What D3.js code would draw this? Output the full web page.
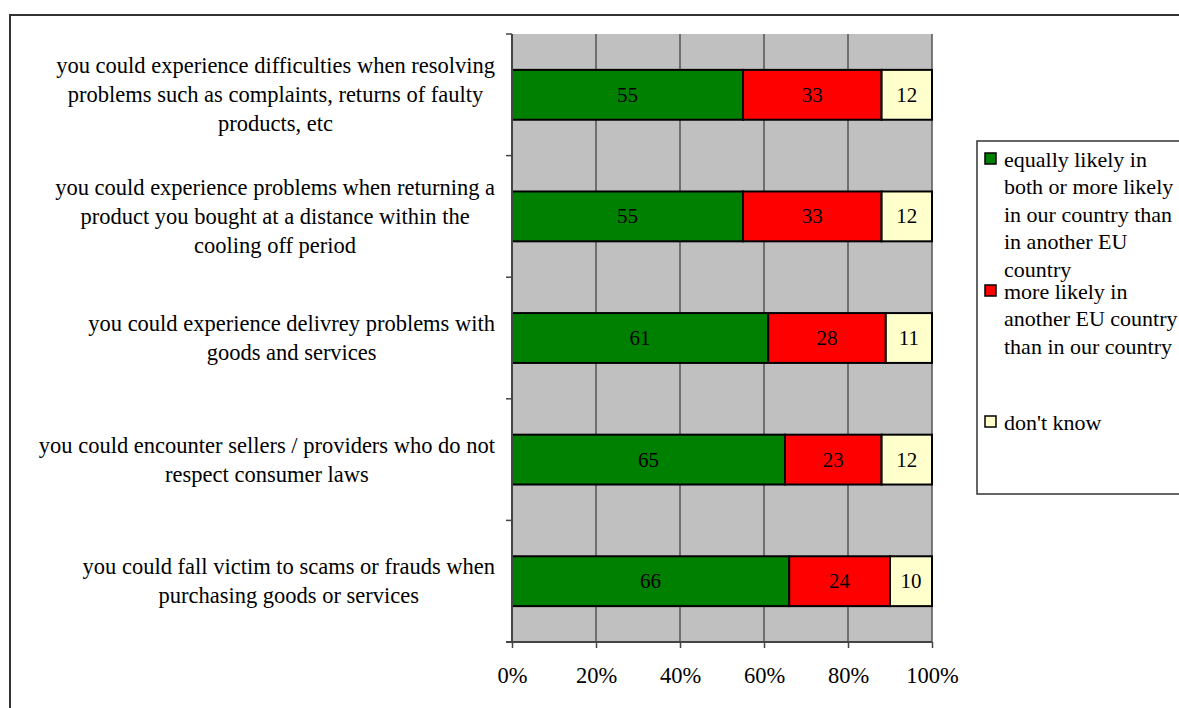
<!DOCTYPE html>
<html><head><meta charset="utf-8">
<script src="https://cdn.jsdelivr.net/npm/d3@7"></script>
<style>
body{margin:0;background:#fff;overflow:hidden;}
svg{display:block;font-family:"Liberation Serif","Times New Roman",serif;}
</style></head>
<body><svg id="chart" width="1179" height="708"></svg>
<script>
const categories = [
  ["you could experience difficulties when resolving","problems such as complaints, returns of faulty","products, etc"],
  ["you could experience problems when returning a","product you bought at a distance within the","cooling off period"],
  ["you could experience delivrey problems with","goods and services"],
  ["you could encounter sellers / providers who do not","respect consumer laws"],
  ["you could fall victim to scams or frauds when","purchasing goods or services"]
];
const seriesNames = [
  ["equally likely in","both or more likely","in our country than","in another EU","country"],
  ["more likely in","another EU country","than in our country"],
  ["don't know"]
];
const equallyLikely = [55, 55, 61, 65, 66];
const moreLikelyOther = [33, 33, 28, 23, 24];
const dontKnow = [12, 12, 11, 12, 10];
const tickValues = [0, 20, 40, 60, 80, 100];
const colors = ["#008000", "#FF0000", "#FFFFCC"];

(function(){
const svg = d3.select("#chart");
// outer frame
svg.append("rect").attr("x",10).attr("y",15).attr("width",1200).attr("height",720)
  .attr("fill","none").attr("stroke","#333").attr("stroke-width",2);

const pL=512, pR=932, pT=34, pB=642;
const x = d3.scaleLinear().domain([0,100]).range([pL,pR]);
const idx = d3.range(categories.length);
const y = d3.scaleBand().domain(idx).range([pT,pB]).paddingInner(0.59).paddingOuter(0.295);
const yBand = d3.scaleBand().domain(idx).range([pT,pB]);

// plot background
svg.append("rect").attr("x",pL).attr("y",pT).attr("width",pR-pL).attr("height",pB-pT).attr("fill","#C0C0C0");

// gridlines
svg.append("g").selectAll("line").data(tickValues.slice(1)).join("line")
  .attr("x1",d=>x(d)).attr("x2",d=>x(d)).attr("y1",pT).attr("y2",pB)
  .attr("stroke","#555").attr("stroke-width",1.5);

// stacked bars
const stackData = idx.map(i=>({i, a:equallyLikely[i], b:moreLikelyOther[i], c:dontKnow[i]}));
const stack = d3.stack().keys(["a","b","c"])(stackData);
stack.forEach((layer,li)=>{
  const g = svg.append("g");
  g.selectAll("rect").data(layer).join("rect")
    .attr("x",d=>x(d[0])).attr("width",d=>x(d[1])-x(d[0]))
    .attr("y",d=>y(d.data.i)).attr("height",y.bandwidth())
    .attr("fill",colors[li]).attr("stroke","#000").attr("stroke-width",2);
  g.selectAll("text").data(layer).join("text")
    .attr("x",d=>(x(d[0])+x(d[1]))/2).attr("y",d=>y(d.data.i)+y.bandwidth()/2)
    .attr("text-anchor","middle").attr("dominant-baseline","central")
    .attr("font-size",21).attr("fill","#000")
    .text(d=>d[1]-d[0]);
});

// y axis line and ticks
svg.append("line").attr("x1",pL).attr("x2",pL).attr("y1",pT).attr("y2",pB).attr("stroke","#444").attr("stroke-width",2);
const yTicks = idx.map(i=>yBand(i)).concat([pB]);
svg.append("g").selectAll("line").data(yTicks).join("line")
  .attr("x1",pL-6).attr("x2",pL).attr("y1",d=>d).attr("y2",d=>d)
  .attr("stroke","#444").attr("stroke-width",1.5);

// x axis
const xAxis = svg.append("g").attr("transform",`translate(0,${pB})`)
  .call(d3.axisBottom(x).tickValues(tickValues).tickFormat(d=>d+"%").tickSize(6));
xAxis.select(".domain").attr("stroke","#444").attr("stroke-width",2).attr("d",`M${pL-6},0H${pR}`);
xAxis.selectAll(".tick line").attr("stroke","#444").attr("stroke-width",1.5);
xAxis.selectAll("text").attr("y",33).attr("dy",null).attr("dominant-baseline","central")
  .attr("font-size",22.5).attr("font-family","Liberation Serif, serif").attr("fill","#000");

// category labels (centered block, right-aligned at 495)
const lineH = 29;
categories.forEach((lines,i)=>{
  const g = svg.append("g");
  const cy = yBand(i)+yBand.bandwidth()/2;
  const t = g.selectAll("text").data(lines).join("text")
    .attr("font-size",22.5).attr("fill","#000")
    .attr("y",(d,k)=>cy+(k-(lines.length-1)/2)*lineH)
    .attr("dominant-baseline","central")
    .attr("text-anchor","middle").text(d=>d);
  let w=0; t.each(function(){w=Math.max(w,this.getComputedTextLength());});
  t.attr("x",495-w/2);
});

// legend
svg.append("rect").attr("x",977).attr("y",141).attr("width",220).attr("height",353)
  .attr("fill","#fff").attr("stroke","#333").attr("stroke-width",1.5);
const legY = [159, 291, 422];
const legLH = 27.5;
seriesNames.forEach((lines,i)=>{
  svg.append("rect").attr("x",985).attr("y",legY[i]-6).attr("width",11).attr("height",11)
    .attr("fill",colors[i]).attr("stroke","#000").attr("stroke-width",1.5);
  svg.append("g").selectAll("text").data(lines).join("text")
    .attr("x",1004).attr("y",(d,k)=>legY[i]+k*legLH)
    .attr("dominant-baseline","central").attr("font-size",22).attr("fill","#000").text(d=>d);
});
})();
</script></body></html>
